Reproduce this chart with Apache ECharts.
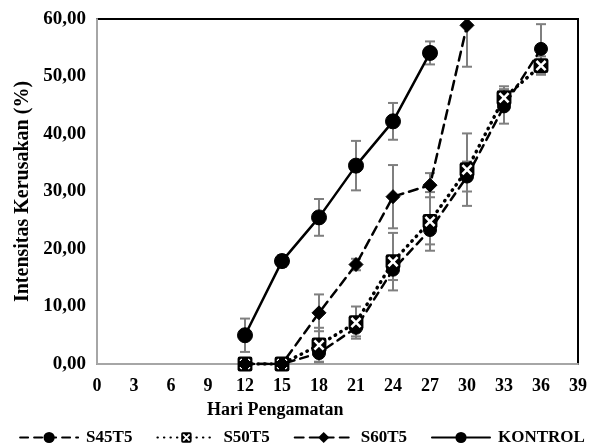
<!DOCTYPE html>
<html>
<head>
<meta charset="utf-8">
<script src="https://cdn.jsdelivr.net/npm/echarts@6/dist/echarts.min.js"></script>
<style>
  html, body { margin: 0; padding: 0; background: #fff; }
  #chart { width: 604px; height: 448px; }
</style>
</head>
<body>
<div id="chart"></div>
<script>
// Observation days (x) and mean damage intensity (%) per treatment, with error values
const days = [12, 15, 18, 21, 24, 27, 30, 33, 36];
const s45t5 = [0, 0, 1.9, 6.3, 16.4, 23.3, 32.6, 44.8, 54.8];
const s45t5Err = [0, 0, 1.5, 1.5, 1.8, 2.5, 2.6, 3.0, 4.3];
const s50t5 = [0, 0, 3.3, 7.2, 17.8, 24.8, 33.8, 46.3, 51.9];
const s50t5Err = [0, 0, 3.0, 2.8, 5.0, 5.1, 6.3, 2.0, 1.6];
const s60t5 = [0, 0, 8.9, 17.3, 29.1, 31.1, 58.9];
const s60t5Err = [0, 0, 3.2, 1.0, 5.5, 2.1, 7.2];
const kontrol = [5.0, 17.9, 25.5, 34.5, 42.2, 54.1];
const kontrolErr = [2.9, 1.0, 3.2, 4.3, 3.2, 2.0];

const seriesNames = ['S45T5', 'S50T5', 'S60T5', 'KONTROL'];
const yTicks = { min: 0, max: 60, step: 10 };
const xTicks = { min: 0, max: 39, step: 3 };

const FONT = '"Liberation Serif", "Times New Roman", serif';
const ERR_COLOR = '#7f7f7f';

// square marker with a white cross
const crossBox = 'image://data:image/svg+xml;utf8,' + encodeURIComponent(
  "<svg xmlns='http://www.w3.org/2000/svg' width='28' height='28'>" +
  "<rect x='1' y='1' width='26' height='26' rx='4' fill='black'/>" +
  "<path d='M6 6L22 22M22 6L6 22' stroke='white' stroke-width='4.5'/></svg>");

function pairs(values) {
  return values.map((v, i) => [days[i], v]);
}
function errTriples(values, errs) {
  return values.map((v, i) => [days[i], v, errs[i]]);
}

function errorSeries(values, errs, z) {
  return {
    type: 'custom',
    z: z,
    clip: true,
    silent: true,
    data: errTriples(values, errs),
    renderItem: function (params, api) {
      const x = api.value(0), y = api.value(1), e = api.value(2);
      if (!e) return null;
      const hi = api.coord([x, y + e]);
      const lo = api.coord([x, y - e]);
      const cap = 5;
      const style = { stroke: ERR_COLOR, lineWidth: 2, fill: null };
      return {
        type: 'group',
        children: [
          { type: 'line', shape: { x1: hi[0], y1: hi[1], x2: lo[0], y2: lo[1] }, style: style },
          { type: 'line', shape: { x1: hi[0] - cap, y1: hi[1], x2: hi[0] + cap, y2: hi[1] }, style: style },
          { type: 'line', shape: { x1: lo[0] - cap, y1: lo[1], x2: lo[0] + cap, y2: lo[1] }, style: style }
        ]
      };
    }
  };
}

function lineSeries(name, values, symbol, size, lineType, width, z) {
  return {
    name: name,
    type: 'line',
    z: z,
    data: pairs(values),
    symbol: symbol,
    symbolSize: size,
    showAllSymbol: true,
    itemStyle: { color: '#000', borderColor: '#000' },
    lineStyle: { color: '#000', width: width, type: lineType, cap: 'round' },
    emphasis: { disabled: true },
    animation: false
  };
}

const chart = echarts.init(document.getElementById('chart'), null, { renderer: 'canvas' });

chart.setOption({
  animation: false,
  backgroundColor: '#fff',
  grid: {
    left: 97, right: 26, top: 19, bottom: 84,
    show: true, borderColor: '#000', borderWidth: 2, backgroundColor: 'transparent'
  },
  xAxis: {
    type: 'value',
    min: xTicks.min, max: xTicks.max, interval: xTicks.step,
    axisLine: { show: true, onZero: false, lineStyle: { color: '#a6a6a6', width: 2 } },
    axisTick: { show: false },
    splitLine: { show: false },
    axisLabel: { color: '#000', fontFamily: FONT, fontWeight: 'bold', fontSize: 18, margin: 13 }
  },
  yAxis: {
    type: 'value',
    min: yTicks.min, max: yTicks.max, interval: yTicks.step,
    name: 'Intensitas Kerusakan (%)',
    nameLocation: 'middle',
    nameGap: 64,
    nameTextStyle: { color: '#000', fontFamily: FONT, fontWeight: 'bold', fontSize: 20 },
    axisLine: { show: true, lineStyle: { color: '#a6a6a6', width: 2 } },
    axisTick: { show: false },
    splitLine: { show: false },
    axisLabel: {
      color: '#000', fontFamily: FONT, fontWeight: 'bold', fontSize: 19, margin: 11,
      formatter: v => v.toFixed(2).replace('.', ',')
    }
  },
  legend: {
    data: seriesNames,
    top: 424,
    left: 'center',
    itemWidth: 58,
    itemHeight: 14,
    itemGap: 24,
    textStyle: { color: '#000', fontFamily: FONT, fontWeight: 'bold', fontSize: 17, padding: [0, 0, 0, 3] },
    selectedMode: false
  },
  graphic: [{
    type: 'text',
    left: 207,
    top: 401,
    style: { text: 'Hari Pengamatan', fill: '#000', font: 'bold 18px ' + FONT }
  }],
  series: [
    errorSeries(s45t5, s45t5Err, 1),
    errorSeries(s50t5, s50t5Err, 1),
    errorSeries(s60t5, s60t5Err, 1),
    errorSeries(kontrol, kontrolErr, 1),
    lineSeries('S45T5', s45t5, 'circle', 13, [8, 6], 2.5, 2),
    lineSeries('S50T5', s50t5, crossBox, 16, [0.5, 6], 3.5, 3),
    lineSeries('S60T5', s60t5, 'diamond', 14, [9, 6], 2.5, 4),
    lineSeries('KONTROL', kontrol, 'circle', 15, 'solid', 2.5, 5)
  ]
});
</script>
</body>
</html>
